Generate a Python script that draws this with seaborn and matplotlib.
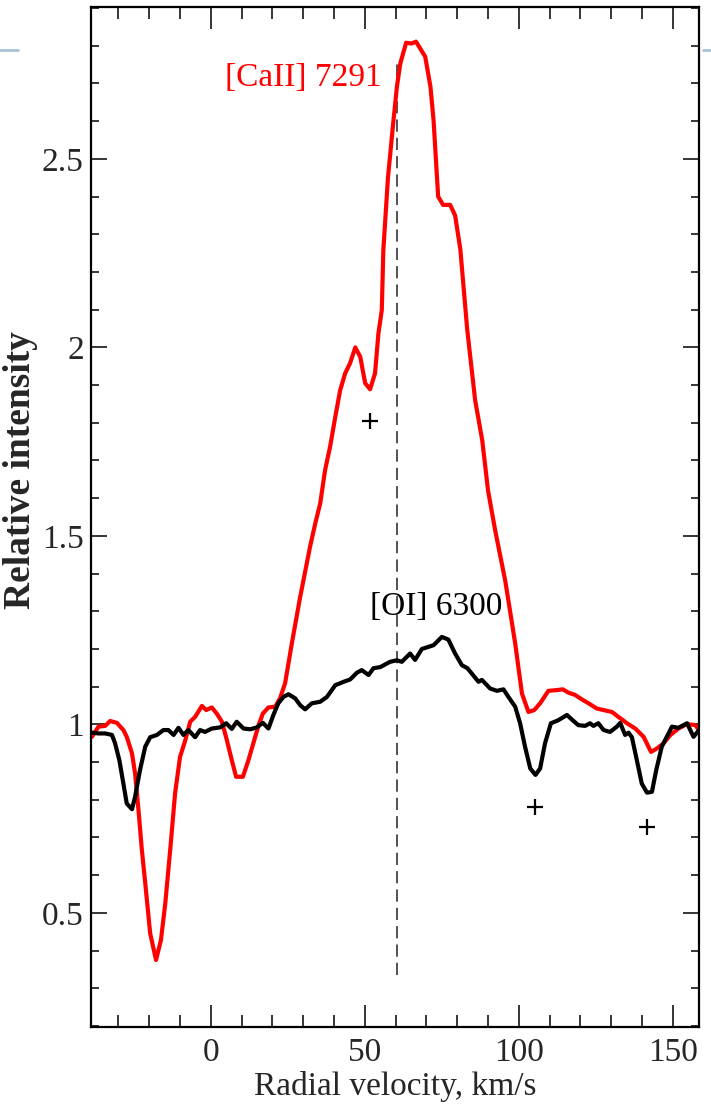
import matplotlib
matplotlib.use("Agg")
import matplotlib.pyplot as plt
from matplotlib.lines import Line2D
from matplotlib.ticker import MultipleLocator, FuncFormatter
import numpy as np
import pandas as pd
import seaborn as sns

# [CaII] 7291 profile: radial velocity (km/s) and relative intensity
ca_velocity = [-38.6, -36.5, -34.3, -32.7, -30.5, -28.4, -27.3, -25.6, -24.6, -23.5,
               -22.4, -21.3, -19.7, -17.8, -16.2, -14.8, -13.2, -11.6, -10.0, -8.3,
               -6.7, -5.1, -2.9, -1.5, 0.3, 1.9, 3.6, 5.2, 6.8, 8.2,
               10.4, 12.2, 13.8, 15.5, 16.9, 18.7, 20.9, 22.5, 24.1, 26.3,
               29.0, 32.2, 33.9, 35.5, 37.1, 38.7, 40.4, 42.0, 43.6, 45.2,
               46.9, 48.5, 50.1, 51.7, 53.3, 54.4, 55.5, 56.0, 57.5, 59.3,
               60.4, 61.5, 63.4, 65.2, 66.6, 69.6, 71.3, 72.3, 73.8, 75.4,
               77.7, 79.3, 81.0, 83.2, 85.8, 88.1, 90.0, 92.3, 95.6, 98.8,
               101.0, 103.1, 105.0, 106.9, 109.6, 112.3, 114.3, 116.1, 118.3, 120.5,
               122.6, 125.3, 127.5, 130.2, 132.3, 135.1, 137.8, 140.5, 142.9, 144.8,
               147.0, 149.2, 151.8, 154.6, 157.3, 158.9]
ca_intensity = [0.967, 0.994, 0.996, 1.009, 1.004, 0.985, 0.967, 0.923, 0.870, 0.773,
                0.667, 0.579, 0.446, 0.375, 0.428, 0.525, 0.667, 0.818, 0.914, 0.958,
                1.007, 1.020, 1.049, 1.038, 1.045, 1.029, 1.007, 0.958, 0.905, 0.861,
                0.861, 0.905, 0.950, 0.998, 1.029, 1.045, 1.047, 1.070, 1.109, 1.215,
                1.338, 1.471, 1.533, 1.586, 1.675, 1.736, 1.816, 1.887, 1.931, 1.958,
                2.000, 1.975, 1.905, 1.889, 1.931, 2.037, 2.099, 2.258, 2.450, 2.603,
                2.691, 2.753, 2.808, 2.806, 2.811, 2.771, 2.691, 2.603, 2.400, 2.378,
                2.378, 2.350, 2.260, 2.050, 1.860, 1.754, 1.620, 1.515, 1.380, 1.215,
                1.082, 1.033, 1.038, 1.056, 1.089, 1.091, 1.093, 1.084, 1.078, 1.066,
                1.056, 1.042, 1.038, 1.033, 1.020, 1.003, 0.989, 0.967, 0.927, 0.936,
                0.950, 0.972, 0.989, 1.001, 0.998, 0.980]

# [OI] 6300 profile
o_velocity = [-38.6, -36.5, -34.3, -32.1, -31.1, -29.7, -28.4, -27.3, -25.6, -24.6,
              -23.0, -21.3, -19.7, -17.5, -15.4, -13.8, -12.1, -10.5, -8.9, -7.3,
              -5.1, -3.5, -1.9, 0.3, 3.0, 5.0, 6.8, 8.4, 10.6, 12.8,
              14.9, 16.9, 18.7, 20.3, 21.9, 23.6, 25.2, 27.4, 29.0, 30.6,
              32.8, 35.5, 37.7, 40.4, 43.1, 45.2, 47.4, 49.0, 51.2, 52.8,
              55.0, 58.2, 60.4, 62.0, 64.7, 66.3, 68.5, 72.3, 75.0, 77.1,
              79.3, 81.5, 83.3, 86.9, 88.0, 90.7, 92.9, 95.0, 96.6, 98.8,
              100.4, 102.0, 103.7, 105.4, 106.9, 108.5, 110.4, 112.8, 115.6, 117.2,
              119.3, 121.5, 123.1, 124.2, 125.8, 127.5, 129.6, 131.8, 132.9, 134.5,
              135.6, 136.7, 138.3, 139.9, 141.6, 143.2, 144.6, 146.4, 149.7, 151.8,
              154.6, 156.7, 158.9]
o_intensity = [0.978, 0.976, 0.976, 0.972, 0.950, 0.905, 0.843, 0.790, 0.775, 0.808,
               0.879, 0.941, 0.966, 0.972, 0.985, 0.985, 0.972, 0.991, 0.972, 0.985,
               0.966, 0.985, 0.980, 0.989, 0.992, 1.003, 0.988, 1.007, 0.989, 0.987,
               0.992, 1.004, 0.989, 1.025, 1.056, 1.073, 1.080, 1.069, 1.051, 1.040,
               1.056, 1.060, 1.073, 1.104, 1.113, 1.119, 1.137, 1.144, 1.131, 1.149,
               1.152, 1.166, 1.170, 1.166, 1.188, 1.171, 1.200, 1.210, 1.232, 1.225,
               1.188, 1.157, 1.149, 1.113, 1.118, 1.095, 1.089, 1.093, 1.073, 1.047,
               1.003, 0.941, 0.883, 0.866, 0.883, 0.950, 1.003, 1.011, 1.025, 1.013,
               0.998, 0.996, 1.003, 0.996, 1.003, 0.985, 0.980, 0.994, 1.004, 0.972,
               0.978, 0.966, 0.905, 0.843, 0.819, 0.821, 0.879, 0.941, 0.994, 0.991,
               1.003, 0.967, 0.989]

# Telluric / blend features flagged with crosses
blend_velocity = [51.7, 105.3, 141.7]
blend_intensity = [1.806, 0.780, 0.727]

# Reference velocity marker
ref_velocity = 60.5
ref_span = [0.335, 2.757]

ca_df = pd.DataFrame({"v": ca_velocity, "I": ca_intensity})
o_df = pd.DataFrame({"v": o_velocity, "I": o_intensity})

sns.set_style("ticks")
plt.rcParams["font.family"] = ["Liberation Serif", "DejaVu Serif"]

fig = plt.figure(figsize=(7.11, 11.10), dpi=100)
ax = fig.add_axes([0.1276, 0.0750, 0.8556, 0.9184])

ax.plot([ref_velocity, ref_velocity], ref_span, color="#222222", lw=1.1,
        linestyle=(0, (8, 4)), zorder=1)

sns.lineplot(data=o_df, x="v", y="I", ax=ax, color="black", lw=3.0,
             estimator=None, sort=False, zorder=3)
sns.lineplot(data=ca_df, x="v", y="I", ax=ax, color="#ff0000", lw=3.0,
             estimator=None, sort=False, zorder=2)

ax.plot(blend_velocity, blend_intensity, linestyle="none", marker="+",
        markersize=12, markeredgewidth=1.6, color="black", zorder=4)

ax.text(55.6, 2.714, "[CaII] 7291", color="#ff0000", fontsize=24,
        ha="right", va="center")
ax.text(51.6, 1.312, "[OI] 6300", color="black", fontsize=24,
        ha="left", va="center")

ax.set_xlim(-39, 158.5)
ax.set_ylim(0.198, 2.902)

ax.xaxis.set_major_locator(MultipleLocator(50))
ax.xaxis.set_minor_locator(MultipleLocator(10))
ax.yaxis.set_major_locator(MultipleLocator(0.5))
ax.yaxis.set_minor_locator(MultipleLocator(0.1))
ax.yaxis.set_major_formatter(FuncFormatter(lambda val, pos: f"{val:g}"))

ax.tick_params(axis="x", which="major", direction="in", length=16, width=1.1,
               top=True, bottom=True, labelsize=24, pad=8, color="black")
ax.tick_params(axis="x", which="minor", direction="in", length=8.3, width=1.1,
               top=True, bottom=True, color="black")
ax.tick_params(axis="y", which="major", direction="in", length=11.5, width=1.1,
               left=True, right=True, labelsize=24, pad=5, color="black")
ax.tick_params(axis="y", which="minor", direction="in", length=5.5, width=1.1,
               left=True, right=True, color="black")

for side in ["left", "right", "top", "bottom"]:
    ax.spines[side].set_visible(True)
    ax.spines[side].set_linewidth(1.6)
    ax.spines[side].set_color("black")

ax.set_xlabel("Radial velocity, km/s", fontsize=24, labelpad=2)
ax.set_ylabel("Relative intensity", fontsize=27, fontweight="bold")
ax.yaxis.set_label_coords(-0.086, 0.546)

# Faint rule segments at the page margins
fig.add_artist(Line2D([0, 18 / 711], [1 - 50 / 1110] * 2, color="#a9c0d8", lw=2))
fig.add_artist(Line2D([703 / 711, 1], [1 - 50 / 1110] * 2, color="#a9c0d8", lw=2))

fig.savefig("out.png", dpi=100)
